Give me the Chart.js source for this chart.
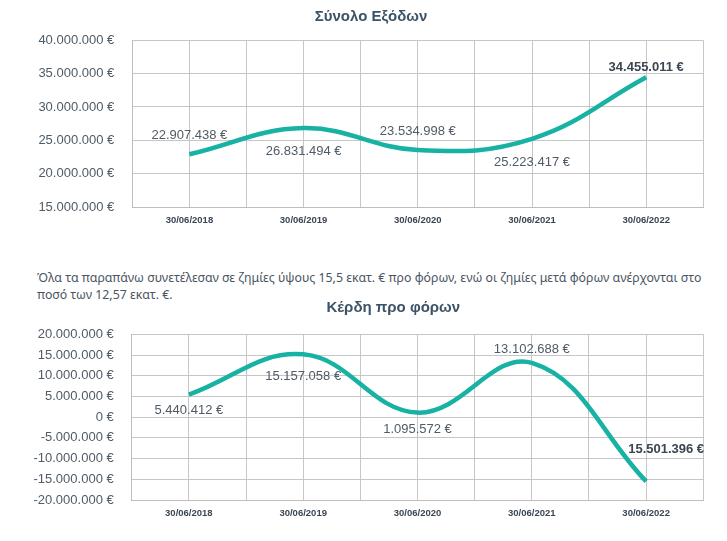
<!DOCTYPE html>
<html>
<head>
<meta charset="utf-8">
<script src="https://cdn.jsdelivr.net/npm/chart.js@4.4.0/dist/chart.umd.min.js"></script>
<style>
  html, body { margin: 0; padding: 0; background: #ffffff; }
  body { width: 727px; height: 541px; position: relative; overflow: hidden; }
  #c1 { position: absolute; left: 0; top: 0; }
  #c2 { position: absolute; left: 0; top: 290px; }
  #para { position: absolute; left: 37px; top: 269px; font-family: "Noto Sans", sans-serif; font-size: 14px; line-height: 17.3px; color: #4a5563; white-space: nowrap; }
</style>
</head>
<body>
<canvas id="c1" width="727" height="235"></canvas>
<div id="para"><span id="l1">Όλα τα παραπάνω συνετέλεσαν σε ζημίες ύψους 15,5 εκατ. € προ φόρων, ενώ οι ζημίες μετά φόρων ανέρχονται στο</span><br><span>ποσό των 12,57 εκατ. €.</span></div>
<canvas id="c2" width="727" height="240"></canvas>
<script>
// ---- data ----
const categories = ['30/06/2018', '30/06/2019', '30/06/2020', '30/06/2021', '30/06/2022'];
const expenses = [22907438, 26831494, 23534998, 25223417, 34455011];
const profitBeforeTax = [5440412, 15157058, 1095572, 13102688, -15501396];
const titleExpenses = 'Σύνολο Εξόδων';
const titleProfit = 'Κέρδη προ φόρων';
const expensesAxis = { min: 15000000, max: 40000000, step: 5000000 };
const profitAxis = { min: -20000000, max: 20000000, step: 5000000 };

// fit paragraph line to reference width
(function () {
  const p = document.getElementById('para');
  const l1 = document.getElementById('l1');
  const w = l1.getBoundingClientRect().width;
  p.style.fontSize = (14 * 665 / w) + 'px';
})();

function fmt(v) {
  const neg = v < 0;
  const s = Math.round(Math.abs(v)).toString().replace(/\B(?=(\d{3})+(?!\d))/g, '.');
  return (neg ? '-' : '') + s + ' €';
}

const TEAL = '#17b2a3';
const GRID = '#c6c6c6';
const TICK_COLOR = '#4f5b66';
const FONT = '"Liberation Sans", Arial, sans-serif';

const chartTitle = {
  id: 'chartTitle',
  afterDraw(chart, args, opts) {
    const ctx = chart.ctx;
    ctx.save();
    ctx.font = 'bold 15px ' + FONT;
    ctx.fillStyle = '#3c5266';
    ctx.textAlign = 'center';
    ctx.textBaseline = 'middle';
    ctx.fillText(opts.text, opts.x, opts.y);
    ctx.restore();
  }
};

const pointLabels = {
  id: 'pointLabels',
  afterDatasetsDraw(chart, args, opts) {
    const ctx = chart.ctx;
    const meta = chart.getDatasetMeta(0);
    const ds = chart.data.datasets[0];
    ctx.save();
    ctx.textAlign = 'center';
    ctx.textBaseline = 'middle';
    meta.data.forEach((pt, i) => {
      const o = opts.offsets[i];
      const v = ds.data[i].y;
      ctx.font = (o.bold ? 'bold ' : '') + '13px ' + FONT;
      ctx.fillStyle = o.bold ? '#3b4652' : '#4f5b66';
      ctx.fillText(fmt(opts.abs ? Math.abs(v) : v), pt.x + (o.dx || 0), pt.y + o.dy);
    });
    ctx.restore();
  }
};

function makeChart(canvasId, values, title, axis, cfg) {
  return new Chart(document.getElementById(canvasId), {
    type: 'line',
    data: {
      datasets: [{
        data: categories.map((c, i) => ({ x: i, y: values[i] })),
        borderColor: TEAL,
        borderWidth: 4.5,
        tension: 0.4,
        pointRadius: 0,
        pointHoverRadius: 0,
        fill: false,
        clip: false
      }]
    },
    options: {
      responsive: false,
      animation: false,
      events: [],
      layout: { padding: { left: 10, right: 23.7, top: cfg.padTop, bottom: 0 } },
      plugins: {
        legend: { display: false },
        tooltip: { enabled: false },
        title: { display: false },
        chartTitle: { text: title, x: cfg.titleX, y: cfg.titleY },
        pointLabels: { offsets: cfg.offsets, abs: cfg.abs }
      },
      scales: {
        x: {
          type: 'linear',
          min: -0.5,
          max: 4.5,
          afterFit: (s) => { s.height = cfg.xHeight; },
          ticks: {
            stepSize: 0.5,
            autoSkip: false,
            maxRotation: 0,
            padding: 7.5,
            color: '#3b4654',
            font: { family: FONT, size: 9.5, weight: 'bold' },
            callback: (v) => {
              const r = Math.round(v);
              return Math.abs(v - r) < 1e-6 && categories[r] ? categories[r] : '';
            }
          },
          grid: { color: GRID, lineWidth: 1, drawTicks: false },
          border: { color: '#bdbdbd', width: 1 }
        },
        y: {
          min: axis.min,
          max: axis.max,
          afterFit: (s) => { s.width = cfg.plotLeft - 10; },
          ticks: {
            stepSize: axis.step,
            padding: 18,
            color: TICK_COLOR,
            font: { family: FONT, size: 13 },
            callback: (v) => fmt(v)
          },
          grid: { color: GRID, lineWidth: 1, drawTicks: false },
          border: { color: '#bdbdbd', width: 1 }
        }
      }
    },
    plugins: [pointLabels, chartTitle]
  });
}

makeChart('c1', expenses, titleExpenses, expensesAxis, {
  padTop: 40.3, plotLeft: 132.3, xHeight: 28, titleX: 371, titleY: 16.7, abs: false,
  offsets: [
    { dy: -19 }, { dy: 23.5 }, { dy: -18.5 }, { dy: 23.8 }, { dy: -10, bold: true }
  ]
});

makeChart('c2', profitBeforeTax, titleProfit, profitAxis, {
  padTop: 44.3, plotLeft: 131.7, xHeight: 30, titleX: 393.3, titleY: 18.3, abs: true,
  offsets: [
    { dy: 16 }, { dy: 21.7 }, { dy: 16.6 }, { dy: -13.3 }, { dy: -32, dx: 20, bold: true }
  ]
});
</script>
</body>
</html>
